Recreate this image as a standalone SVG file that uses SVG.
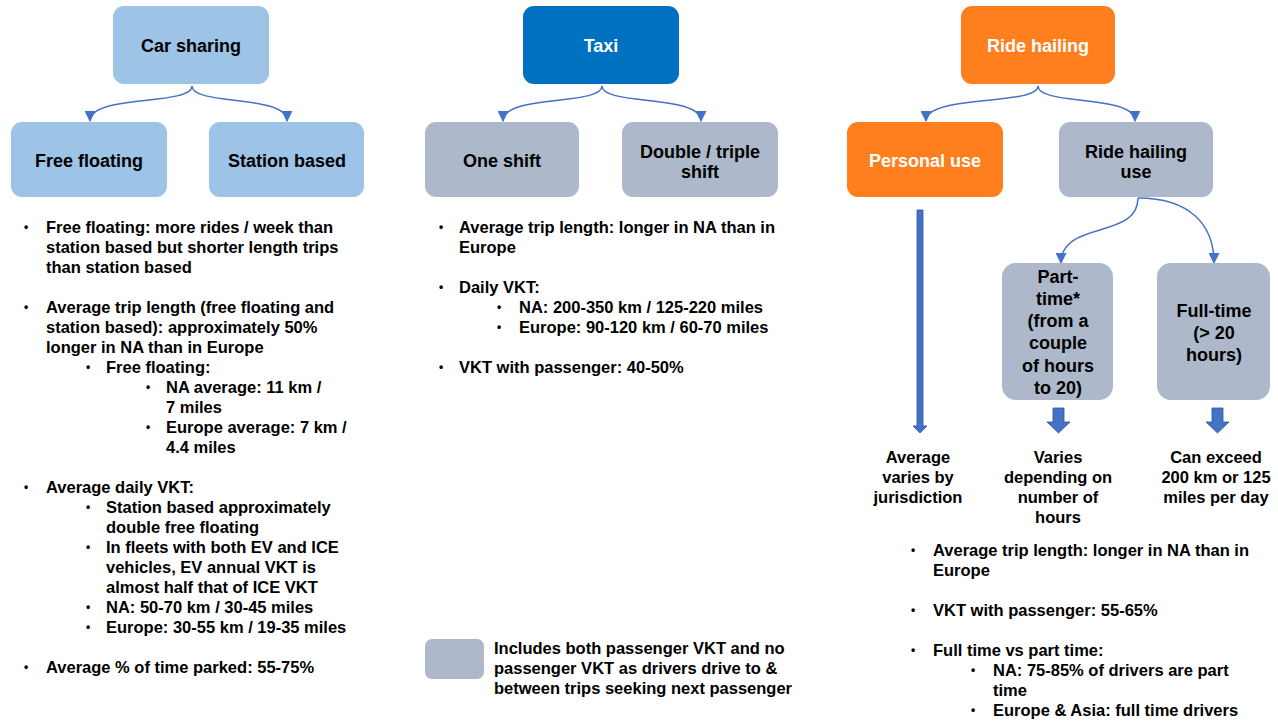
<svg xmlns="http://www.w3.org/2000/svg" width="1278" height="721" viewBox="0 0 1278 721">
<defs>
<style>
text{font-family:"Liberation Sans",Arial,Helvetica,sans-serif;font-weight:bold;fill:#000}
.lbl{font-size:18px;text-anchor:middle}
.w{fill:#fff}
.b{font-size:16.5px}
.d{font-size:12px;text-anchor:middle}
.c{font-size:16.5px;text-anchor:middle}
.conn{fill:none;stroke:#4472C4;stroke-width:1.5}
.lb{fill:#9DC3E6}
.db{fill:#0070C0}
.or{fill:#FF7F1F}
.gr{fill:#ADB9CA}
.ba{fill:#4472C4;stroke:#2F5597;stroke-width:0.8}
</style>
<marker id="ah" viewBox="0 0 10 10" refX="9" refY="5" markerWidth="11" markerHeight="11" markerUnits="userSpaceOnUse" orient="auto">
<path d="M0,0 L10,5 L0,10 z" fill="#4472C4"/>
</marker>
</defs>

<g id="connectors">
<path class="conn" marker-end="url(#ah)" d="M192,86 C192,106 90,94 90,121"/>
<path class="conn" marker-end="url(#ah)" d="M192,86 C192,106 287,94 287,121"/>
<path class="conn" marker-end="url(#ah)" d="M602,86 C602,106 503,94 503,121"/>
<path class="conn" marker-end="url(#ah)" d="M602,86 C602,106 701,94 701,121"/>
<path class="conn" marker-end="url(#ah)" d="M1038,86 C1038,106 926,94 926,121"/>
<path class="conn" marker-end="url(#ah)" d="M1038,86 C1038,106 1135,94 1135,121"/>
<path class="conn" marker-end="url(#ah)" d="M1138,198 C1138,240 1061,220 1061,263"/>
<path class="conn" marker-end="url(#ah)" d="M1138,198 C1190,198 1214,225 1214,263"/>
<polygon class="ba" points="917,210 923,210 923,426 927,426 920,433 913,426 917,426"/>
<polygon class="ba" points="1053,408 1064,408 1064,422 1070,422 1058.5,433 1047,422 1053,422"/>
<polygon class="ba" points="1212,408 1223,408 1223,422 1229,422 1217.5,433 1206,422 1212,422"/>
</g>

<g id="car-sharing">
<rect class="lb" x="113" y="6" width="156" height="78" rx="11"/>
<text class="lbl" x="191" y="52">Car sharing</text>
</g>
<g id="free-floating">
<rect class="lb" x="11" y="122" width="156" height="75" rx="11"/>
<text class="lbl" x="89" y="167">Free floating</text>
</g>
<g id="station-based">
<rect class="lb" x="209" y="122" width="155" height="75" rx="11"/>
<text class="lbl" x="287" y="167">Station based</text>
</g>

<g id="taxi">
<rect class="db" x="523" y="6" width="156" height="78" rx="11"/>
<text class="lbl w" x="601" y="52">Taxi</text>
</g>
<g id="one-shift">
<rect class="gr" x="425" y="122" width="154" height="75" rx="11"/>
<text class="lbl" x="502" y="167">One shift</text>
</g>
<g id="double-triple-shift">
<rect class="gr" x="622" y="122" width="156" height="75" rx="11"/>
<text class="lbl" x="700" y="158">Double / triple</text>
<text class="lbl" x="700" y="178">shift</text>
</g>

<g id="ride-hailing">
<rect class="or" x="961" y="6" width="154" height="78" rx="11"/>
<text class="lbl w" x="1038" y="52">Ride hailing</text>
</g>
<g id="personal-use">
<rect class="or" x="847" y="122" width="156" height="75" rx="11"/>
<text class="lbl w" x="925" y="167">Personal use</text>
</g>
<g id="ride-hailing-use">
<rect class="gr" x="1059" y="122" width="154" height="75" rx="11"/>
<text class="lbl" x="1136" y="158">Ride hailing</text>
<text class="lbl" x="1136" y="178">use</text>
</g>
<g id="part-time">
<rect class="gr" x="1002" y="263" width="111" height="137" rx="14"/>
<text class="lbl" x="1058" y="283">Part-</text>
<text class="lbl" x="1058" y="305">time*</text>
<text class="lbl" x="1058" y="327">(from a</text>
<text class="lbl" x="1058" y="349">couple</text>
<text class="lbl" x="1058" y="372">of hours</text>
<text class="lbl" x="1058" y="394">to 20)</text>
</g>
<g id="full-time">
<rect class="gr" x="1157" y="263" width="113" height="137" rx="14"/>
<text class="lbl" x="1214" y="317">Full-time</text>
<text class="lbl" x="1214" y="339">(&gt; 20</text>
<text class="lbl" x="1214" y="361">hours)</text>
</g>

<g id="outcome-personal">
<text class="c" x="918" y="463">Average</text>
<text class="c" x="918" y="483">varies by</text>
<text class="c" x="918" y="503">jurisdiction</text>
</g>
<g id="outcome-part-time">
<text class="c" x="1058" y="463">Varies</text>
<text class="c" x="1058" y="483">depending on</text>
<text class="c" x="1058" y="503">number of</text>
<text class="c" x="1058" y="523">hours</text>
</g>
<g id="outcome-full-time">
<text class="c" x="1216" y="463">Can exceed</text>
<text class="c" x="1216" y="483">200 km or 125</text>
<text class="c" x="1216" y="503">miles per day</text>
</g>

<g id="car-sharing-notes">
<text class="d" x="26" y="231">•</text>
<text class="b" x="46" y="233">Free floating: more rides / week than</text>
<text class="b" x="46" y="253">station based but shorter length trips</text>
<text class="b" x="46" y="273">than station based</text>
<text class="d" x="26" y="311">•</text>
<text class="b" x="46" y="313">Average trip length (free floating and</text>
<text class="b" x="46" y="333">station based): approximately 50%</text>
<text class="b" x="46" y="353">longer in NA than in Europe</text>
<text class="d" x="88" y="371">•</text>
<text class="b" x="106" y="373">Free floating:</text>
<text class="d" x="148" y="391">•</text>
<text class="b" x="166" y="393">NA average: 11 km /</text>
<text class="b" x="166" y="413">7 miles</text>
<text class="d" x="148" y="431">•</text>
<text class="b" x="166" y="433">Europe average: 7 km /</text>
<text class="b" x="166" y="453">4.4 miles</text>
<text class="d" x="26" y="491">•</text>
<text class="b" x="46" y="493">Average daily VKT:</text>
<text class="d" x="88" y="511">•</text>
<text class="b" x="106" y="513">Station based approximately</text>
<text class="b" x="106" y="533">double free floating</text>
<text class="d" x="88" y="551">•</text>
<text class="b" x="106" y="553">In fleets with both EV and ICE</text>
<text class="b" x="106" y="573">vehicles, EV annual VKT is</text>
<text class="b" x="106" y="593">almost half that of ICE VKT</text>
<text class="d" x="88" y="611">•</text>
<text class="b" x="106" y="613">NA: 50-70 km / 30-45 miles</text>
<text class="d" x="88" y="631">•</text>
<text class="b" x="106" y="633">Europe: 30-55 km / 19-35 miles</text>
<text class="d" x="26" y="671">•</text>
<text class="b" x="46" y="673">Average % of time parked: 55-75%</text>
</g>

<g id="taxi-notes">
<text class="d" x="441" y="231">•</text>
<text class="b" x="459" y="233">Average trip length: longer in NA than in</text>
<text class="b" x="459" y="253">Europe</text>
<text class="d" x="441" y="291">•</text>
<text class="b" x="459" y="293">Daily VKT:</text>
<text class="d" x="499" y="311">•</text>
<text class="b" x="519" y="313">NA: 200-350 km / 125-220 miles</text>
<text class="d" x="499" y="331">•</text>
<text class="b" x="519" y="333">Europe: 90-120 km / 60-70 miles</text>
<text class="d" x="441" y="371">•</text>
<text class="b" x="459" y="373">VKT with passenger: 40-50%</text>
</g>

<g id="legend">
<rect class="gr" x="425" y="639" width="59" height="40" rx="7"/>
<text class="b" x="494" y="654">Includes both passenger VKT and no</text>
<text class="b" x="494" y="674">passenger VKT as drivers drive to &amp;</text>
<text class="b" x="494" y="694">between trips seeking next passenger</text>
</g>

<g id="ride-hailing-notes">
<text class="d" x="913" y="554">•</text>
<text class="b" x="933" y="556">Average trip length: longer in NA than in</text>
<text class="b" x="933" y="576">Europe</text>
<text class="d" x="913" y="614">•</text>
<text class="b" x="933" y="616">VKT with passenger: 55-65%</text>
<text class="d" x="913" y="654">•</text>
<text class="b" x="933" y="656">Full time vs part time:</text>
<text class="d" x="973" y="674">•</text>
<text class="b" x="993" y="676">NA: 75-85% of drivers are part</text>
<text class="b" x="993" y="696">time</text>
<text class="d" x="973" y="714">•</text>
<text class="b" x="993" y="716">Europe &amp; Asia: full time drivers</text>
</g>
</svg>
